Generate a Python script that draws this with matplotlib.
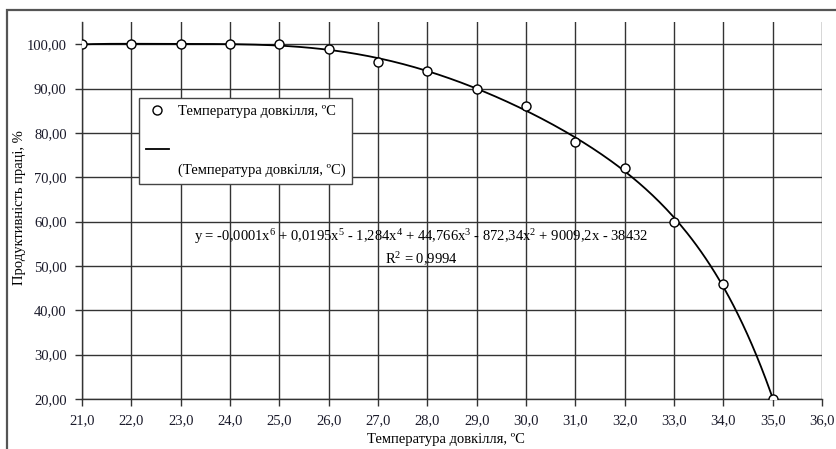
import numpy as np
import matplotlib
matplotlib.use("Agg")
import matplotlib.pyplot as plt
from matplotlib.lines import Line2D
from matplotlib.patches import Rectangle

plt.rcParams['font.family'] = ['Liberation Serif', 'DejaVu Serif']
plt.rcParams['mathtext.fontset'] = 'custom'
plt.rcParams['mathtext.rm'] = 'Liberation Serif'
plt.rcParams['mathtext.it'] = 'Liberation Serif:italic'

temperature = [21, 22, 23, 24, 25, 26, 27, 28, 29, 30, 31, 32, 33, 34, 35]
productivity = [100, 100, 100, 100, 100, 99, 96, 94, 90, 86, 78, 72, 60, 46, 20]
x_ticks = [21, 22, 23, 24, 25, 26, 27, 28, 29, 30, 31, 32, 33, 34, 35, 36]
y_ticks = [20, 30, 40, 50, 60, 70, 80, 90, 100]
series_label = 'Температура довкілля, ºС'
trend_label = '(Температура довкілля, ºС)'
equation = ('y = -0,0001x$^{6}$ + 0,0195x$^{5}$ - 1,284x$^{4}$ + 44,766x$^{3}$'
            ' - 872,34x$^{2}$ + 9009,2x - 38432\nR$^{2}$ = 0,9994')

W, H = 837, 449
fig = plt.figure(figsize=(W / 100, H / 100), dpi=100)
ax = fig.add_axes([82 / W, 1 - 399 / H, 740 / W, 377 / H])

# outer frame
fig.patches.append(Rectangle((7 / W, -0.1), 1.2, 1.1 - 10 / H, transform=fig.transFigure,
                             fill=False, edgecolor='#555555', linewidth=1.6, zorder=0))

# trend line
poly = np.polynomial.Polynomial.fit(temperature, productivity, 6)
xs = np.linspace(temperature[0], temperature[-1], 300)
ax.plot(xs, poly(xs), color='black', linewidth=1.3, zorder=3)
ax.plot(temperature, productivity, linestyle='none', marker='o', markersize=6.5,
        markerfacecolor='white', markeredgecolor='black', markeredgewidth=1.0, zorder=4)

ax.set_xlim(21, 36)
ax.set_ylim(20, 105)
ax.set_xticks(x_ticks)
ax.set_yticks(y_ticks)
ax.set_xticklabels([f'{v:.1f}'.replace('.', ',') for v in x_ticks])
ax.set_yticklabels([f'{v:.2f}'.replace('.', ',') for v in y_ticks])
ax.tick_params(direction='out', length=5, width=1, colors='#333333', labelcolor='#1a1a2a',
               labelsize=10.5, pad=6)
ax.grid(True, color='#333333', linewidth=1.0)
ax.set_axisbelow(True)
for s in ['top', 'right']:
    ax.spines[s].set_visible(False)
for s in ['left', 'bottom']:
    ax.spines[s].set_color('#333333')
    ax.spines[s].set_linewidth(1.0)

ax.set_xlabel('Температура довкілля, ºС', fontsize=10.5)
ax.xaxis.set_label_coords((446 - 82) / 740, -(440 - 399) / 377)
ax.xaxis.label.set_va('center')
ax.set_ylabel('Продуктивність праці, %', fontsize=10.5)
ax.yaxis.set_label_coords((20 - 82) / 740, (399 - 208) / 377)
ax.yaxis.label.set_va('center')

ax.text(27.87, 54.2, equation, ha='center', va='center', fontsize=10.5,
        linespacing=1.35, zorder=5)

handles = [Line2D([], [], linestyle='none', marker='o', markersize=6.5,
                  markerfacecolor='white', markeredgecolor='black'),
           Line2D([], [], linestyle='none', marker=None, color='none'),
           Line2D([], [], color='black', linewidth=1.3),
           Line2D([], [], linestyle='none', marker=None, color='none')]
labels = [series_label, ' ', ' ', trend_label]
leg = ax.legend(handles, labels, loc='upper left',
                bbox_to_anchor=((139 - 82) / 740, (399 - 98) / 377),
                borderaxespad=0, fancybox=False, framealpha=1, edgecolor='#444444',
                fontsize=10.5, handlelength=1.6, handletextpad=0.6, labelspacing=0.45,
                borderpad=0.45)
leg.get_frame().set_linewidth(1.0)
leg.set_zorder(6)

fig.savefig('out.png', dpi=100)
